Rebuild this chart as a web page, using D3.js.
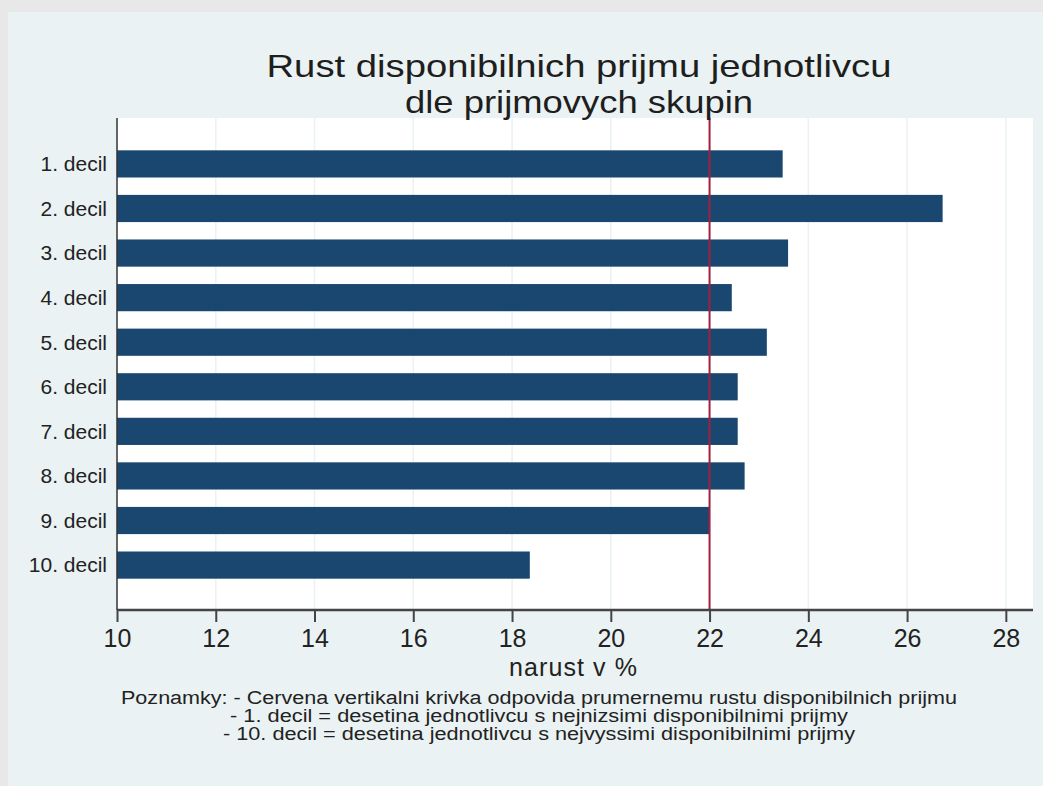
<!DOCTYPE html>
<html>
<head>
<meta charset="utf-8">
<script src="https://cdn.jsdelivr.net/npm/d3@7/dist/d3.min.js"></script>
<style>
  html, body { margin: 0; padding: 0; background: #e8e8e8; }
  svg { display: block; }
  text { font-family: "Liberation Sans", Arial, Helvetica, sans-serif; }
</style>
</head>
<body>
<svg id="chart" width="1043" height="786"></svg>
<script>
// ---- data ----
const categories = ["1. decil", "2. decil", "3. decil", "4. decil", "5. decil",
                    "6. decil", "7. decil", "8. decil", "9. decil", "10. decil"];
const growth = [23.48, 26.72, 23.59, 22.45, 23.16, 22.57, 22.57, 22.71, 22.0, 18.36];
const averageGrowth = 22.0;
const xTicks = [10, 12, 14, 16, 18, 20, 22, 24, 26, 28];
const titleLines = ["Rust disponibilnich prijmu jednotlivcu", "dle prijmovych skupin"];
const xAxisTitle = "narust v %";
const noteLines = [
  "Poznamky: - Cervena vertikalni krivka odpovida prumernemu rustu disponibilnich prijmu",
  "- 1. decil = desetina jednotlivcu s nejnizsimi disponibilnimi prijmy",
  "- 10. decil = desetina jednotlivcu s nejvyssimi disponibilnimi prijmy"
];

// ---- layout ----
const W = 1043, H = 786;
const plot = { left: 117, right: 1033, top: 118, bottom: 610 };
const svg = d3.select("#chart");

svg.append("rect").attr("x", 0).attr("y", 0).attr("width", W).attr("height", H).attr("fill", "#e8e8e8");
svg.append("rect").attr("x", 8).attr("y", 12).attr("width", W - 8).attr("height", H - 12).attr("fill", "#eaf2f3");
svg.append("rect").attr("x", plot.left).attr("y", plot.top)
   .attr("width", plot.right - plot.left).attr("height", plot.bottom - plot.top).attr("fill", "#ffffff");

const x = d3.scaleLinear().domain([10, 28.55]).range([plot.left, plot.right]);
const y = d3.scaleBand().domain(categories).range([plot.top + 2, plot.bottom - 1])
            .paddingInner(0.39).paddingOuter(0.68);

// gridlines
svg.append("g").selectAll("line").data(xTicks.slice(1)).join("line")
   .attr("x1", d => x(d)).attr("x2", d => x(d))
   .attr("y1", plot.top).attr("y2", plot.bottom)
   .attr("stroke", "#eaf2f3").attr("stroke-width", 1.5);

// bars
svg.append("g").selectAll("rect").data(categories).join("rect")
   .attr("x", x(10))
   .attr("y", d => y(d))
   .attr("width", (d, i) => x(growth[i]) - x(10))
   .attr("height", y.bandwidth())
   .attr("fill", "#1a476f");

// average line
svg.append("line")
   .attr("x1", x(averageGrowth)).attr("x2", x(averageGrowth))
   .attr("y1", plot.top).attr("y2", plot.bottom)
   .attr("stroke", "#a3203f").attr("stroke-width", 2);

// x axis
const xAxis = svg.append("g").attr("transform", `translate(0,${plot.bottom})`)
   .call(d3.axisBottom(x).tickValues(xTicks).tickSize(12).tickPadding(7).tickSizeOuter(0));
xAxis.select(".domain").attr("stroke", "#444").attr("stroke-width", 2.5)
   .attr("d", `M${plot.left},0H${plot.right}`);
xAxis.selectAll(".tick line").attr("stroke", "#444").attr("stroke-width", 2);
xAxis.selectAll(".tick text").attr("fill", "#222").attr("font-size", 25)
   .attr("font-family", "Liberation Sans, Arial, sans-serif");

// y axis line + labels
svg.append("line").attr("x1", plot.left).attr("x2", plot.left)
   .attr("y1", plot.top).attr("y2", plot.bottom)
   .attr("stroke", "#333").attr("stroke-width", 1.5);
svg.append("g").selectAll("text").data(categories).join("text")
   .attr("x", plot.left - 10)
   .attr("y", d => y(d) + y.bandwidth() / 2)
   .attr("dy", "0.35em")
   .attr("text-anchor", "end")
   .attr("font-size", 21)
   .attr("fill", "#222")
   .text(d => d);

// title
const cx = (plot.left + plot.right) / 2 + 4;
const titleWidths = [625, 348];
svg.append("g").selectAll("text").data(titleLines).join("text")
   .attr("x", cx)
   .attr("y", (d, i) => 77 + i * 36)
   .attr("text-anchor", "middle")
   .attr("font-size", 32)
   .attr("textLength", (d, i) => titleWidths[i])
   .attr("lengthAdjust", "spacingAndGlyphs")
   .attr("fill", "#1e1e1e")
   .text(d => d);

// x-axis title
svg.append("text").attr("x", 573).attr("y", 676)
   .attr("text-anchor", "middle").attr("font-size", 25).attr("fill", "#222")
   .attr("textLength", 128).attr("lengthAdjust", "spacing")
   .text(xAxisTitle);

// notes
const noteWidths = [836, 618, 632];
svg.append("g").selectAll("text").data(noteLines).join("text")
   .attr("x", 539)
   .attr("y", (d, i) => 704 + i * 18)
   .attr("text-anchor", "middle")
   .attr("font-size", 18)
   .attr("textLength", (d, i) => noteWidths[i])
   .attr("lengthAdjust", "spacingAndGlyphs")
   .attr("fill", "#222")
   .text(d => d);
</script>
</body>
</html>
